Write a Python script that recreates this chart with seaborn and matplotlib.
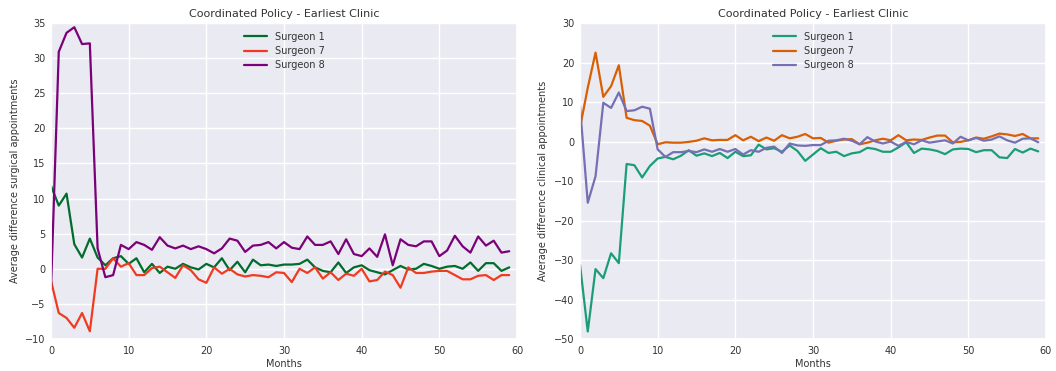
import numpy as np
import pandas as pd
import matplotlib
matplotlib.use("Agg")
import matplotlib.pyplot as plt
import seaborn as sns

months = list(range(60))

surg_s1 = [11.8, 9.0, 10.7, 3.5, 1.6, 4.3, 1.6, 0.5, 1.5, 1.8, 0.7, 1.5, -0.5, 0.7, -0.6, 0.3, 0.0, 0.7, 0.2, -0.1,
           0.7, 0.2, 1.5, -0.2, 1.0, -0.5, 1.3, 0.5, 0.6, 0.4, 0.6, 0.6, 0.7, 1.3, 0.2, -0.3, -0.5, 0.9, -0.6, 0.2,
           0.5, -0.2, -0.5, -0.8, -0.2, 0.4, -0.1, 0.0, 0.7, 0.4, 0.0, 0.3, 0.4, 0.0, 0.9, -0.3, 0.8, 0.8, -0.3, 0.2]
surg_s7 = [-1.7, -6.3, -7.0, -8.4, -6.3, -8.9, 0.0, 0.0, 1.5, 0.3, 0.8, -0.9, -0.9, 0.1, 0.3, -0.5, -1.3, 0.5, -0.2, -1.5,
           -2.0, 0.2, -0.7, 0.0, -0.8, -1.1, -0.9, -1.0, -1.2, -0.5, -0.6, -1.9, 0.0, -0.6, 0.2, -1.4, -0.5, -1.6, -0.7, -1.0,
           0.0, -1.8, -1.6, -0.4, -0.9, -2.7, 0.2, -0.6, -0.6, -0.4, -0.3, -0.3, -0.9, -1.5, -1.5, -1.0, -0.9, -1.6, -0.9, -0.9]
surg_s8 = [-2.9, 30.9, 33.6, 34.4, 32.0, 32.1, 2.9, -1.2, -0.9, 3.4, 2.8, 3.8, 3.4, 2.7, 4.5, 3.3, 2.9, 3.3, 2.8, 3.2,
           2.8, 2.2, 2.9, 4.3, 4.0, 2.4, 3.3, 3.4, 3.8, 2.9, 3.8, 3.0, 2.8, 4.6, 3.4, 3.4, 3.9, 2.1, 4.2, 2.1,
           1.8, 2.9, 1.7, 4.9, 0.5, 4.2, 3.4, 3.2, 3.9, 3.9, 1.8, 2.6, 4.7, 3.2, 2.3, 4.6, 3.3, 4.0, 2.3, 2.5]

clin_s1 = [-31.2, -48.1, -32.3, -34.6, -28.3, -30.8, -5.7, -6.0, -9.1, -6.2, -4.3, -3.9, -4.5, -3.6, -2.2, -3.6, -3.0, -3.7, -2.9, -4.2,
           -2.6, -3.7, -3.5, -0.8, -2.0, -1.7, -2.6, -1.0, -2.4, -4.9, -3.3, -1.7, -2.9, -2.6, -3.7, -3.0, -2.7, -1.6, -1.9, -2.6,
           -2.6, -1.5, -0.2, -2.9, -1.8, -2.0, -2.4, -3.2, -2.0, -1.8, -1.9, -2.7, -2.2, -2.2, -4.0, -4.2, -1.9, -2.8, -1.8, -2.5]
clin_s7 = [3.5, 13.6, 22.5, 11.3, 14.0, 19.3, 6.0, 5.4, 5.2, 4.0, -0.7, -0.2, -0.3, -0.3, -0.1, 0.2, 0.8, 0.3, 0.4, 0.4,
           1.6, 0.3, 1.2, 0.1, 1.0, 0.2, 1.6, 0.8, 1.2, 1.9, 0.8, 0.9, -0.3, 0.2, 0.5, 0.6, -0.7, -0.3, 0.3, 0.7,
           0.3, 1.6, 0.3, 0.5, 0.4, 1.0, 1.5, 1.5, -0.2, -0.1, 0.3, 1.0, 0.7, 1.3, 2.0, 1.8, 1.4, 1.9, 0.8, 0.8]
clin_s8 = [8.8, -15.5, -8.8, 9.8, 8.5, 12.4, 7.7, 7.9, 8.8, 8.3, -2.0, -3.9, -2.7, -2.7, -2.4, -2.7, -2.0, -2.6, -1.9, -2.6,
           -1.9, -3.3, -2.2, -2.6, -1.6, -1.3, -2.9, -0.5, -1.0, -1.1, -0.9, -0.9, 0.2, 0.3, 0.7, 0.2, -0.7, 1.1, 0.0, -0.5,
           0.0, -1.1, -0.1, -0.7, 0.3, -0.3, 0.0, 0.3, -0.5, 1.2, 0.3, 0.9, 0.2, 0.5, 1.3, 0.3, -0.3, 0.7, 0.8, -0.2]

labels = ["Surgeon 1", "Surgeon 7", "Surgeon 8"]
title = "Coordinated Policy - Earliest Clinic"
xlabel = "Months"
ylabel_left = "Average difference surgical appointments"
ylabel_right = "Average difference clinical appointments"

left_colors = ["#006d2c", "#f03b20", "#7a0177"]
right_colors = ["#1b9e77", "#d95f02", "#7570b3"]

sns.set_theme(style="darkgrid")
plt.rcParams['font.family'] = ['DejaVu Sans']
plt.rcParams['font.size'] = 7

txt = "#333333"
fig = plt.figure(figsize=(10.56, 3.71), dpi=100)
ax1 = fig.add_axes([51/1056, 1 - 339/371, 466/1056, 316/371])
ax2 = fig.add_axes([580/1056, 1 - 339/371, 466/1056, 316/371])

for ax, series, colors, ylab, ylim, yt in [
    (ax1, [surg_s1, surg_s7, surg_s8], left_colors, ylabel_left, (-10, 35), range(-10, 36, 5)),
    (ax2, [clin_s1, clin_s7, clin_s8], right_colors, ylabel_right, (-50, 30), range(-50, 31, 10)),
]:
    for vals, c, lab in zip(series, colors, labels):
        sns.lineplot(x=months, y=vals, color=c, label=lab, ax=ax, linewidth=1.6)
    ax.set_xlim(0, 60)
    ax.set_ylim(*ylim)
    ax.set_yticks(list(yt))
    ax.set_xticks(range(0, 61, 10))
    ax.set_title(title, fontsize=8, pad=4, color=txt)
    ax.set_xlabel(xlabel, fontsize=7, labelpad=2, color=txt)
    ax.set_ylabel(ylab, fontsize=7, labelpad=4, color=txt)
    ax.tick_params(axis="x", labelsize=7, length=0, pad=5, colors=txt)
    ax.tick_params(axis="y", labelsize=7, length=0, pad=4, colors=txt)
    leg = ax.legend(loc="upper center", frameon=False, fontsize=7, handlelength=2.4,
                    borderaxespad=0.5, labelspacing=0.45, handletextpad=0.8)
    for t in leg.get_texts():
        t.set_color(txt)

fig.savefig("out.png", dpi=100)
